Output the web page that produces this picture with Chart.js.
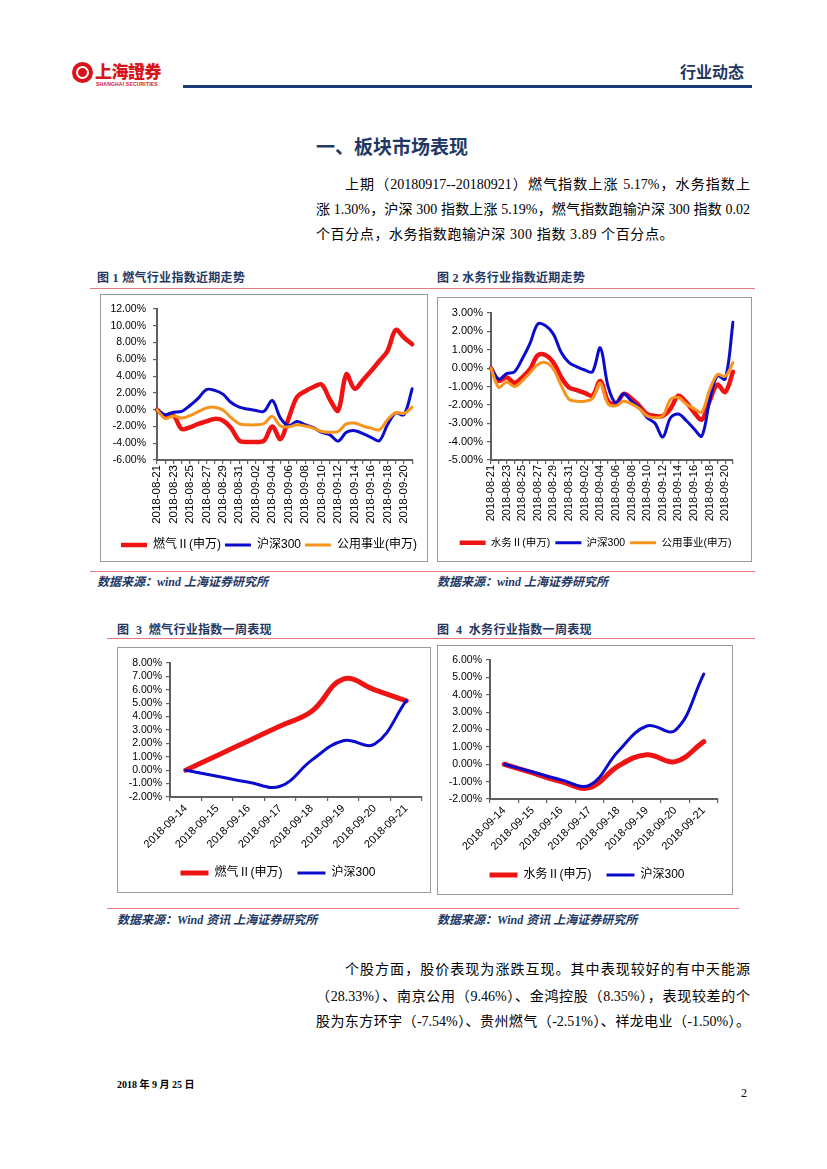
<!DOCTYPE html>
<html lang="zh-CN">
<head>
<meta charset="utf-8">
<title>行业动态 - 燃气水务</title>
<script src="https://cdn.jsdelivr.net/npm/chart.js@4.4.1/dist/chart.umd.min.js"></script>
<style>
html,body{margin:0;padding:0;background:#fff}
body{position:relative;width:827px;height:1169px;overflow:hidden;font-family:"Liberation Serif","Noto Sans CJK SC",serif;color:#000}
.a{position:absolute;white-space:nowrap}
.hr{position:absolute;height:0;border-top:1.5px solid #e77a7a}
.box{position:absolute;border:1px solid #9a9a9a;box-sizing:border-box;background:#fff}
.box canvas{position:absolute;left:0;top:0}
.j{text-align:justify;text-align-last:justify}
.cap{font-family:"Liberation Serif","Noto Sans CJK SC",serif;font-weight:700;font-size:12px;line-height:16px;color:#1f3864;letter-spacing:0.3px}
.src{font-family:"Liberation Serif","Noto Sans CJK SC",serif;font-weight:700;font-style:italic;font-size:12px;line-height:16px;color:#1f3864}
.p{font-size:14px;line-height:20px}
</style>
</head>
<body>
<!-- header -->
<div class="a" style="left:72px;top:62px;width:21px;height:21px;border-radius:50%;background:#d7141a"></div>
<div class="a" style="left:76px;top:66px;width:13px;height:13px;border-radius:50%;border:2px solid #fff;box-sizing:border-box"></div>
<div class="a" style="left:80px;top:69px;width:5px;height:7px;background:#d7141a"></div>
<div class="a" style="left:95px;top:61px;font-family:'Noto Sans CJK TC','Noto Sans CJK SC',sans-serif;font-weight:900;font-size:17px;line-height:20px;color:#d7141a;letter-spacing:-0.5px">上海證券</div>
<div class="a" style="left:96px;top:81px;font-family:'Liberation Sans',sans-serif;font-weight:700;font-size:5px;line-height:6px;color:#d7141a;letter-spacing:0.2px">SHANGHAI SECURITIES</div>
<div class="a" style="left:680px;top:61px;font-family:'Noto Sans CJK SC',sans-serif;font-weight:700;font-size:16px;line-height:20px;color:#1f3864">行业动态</div>
<div class="a" style="left:183px;top:85px;width:569px;height:2.5px;background:#1f3c78"></div>

<!-- section title & paragraph -->
<div class="a" style="left:316px;top:134px;font-family:'Noto Sans CJK SC',sans-serif;font-weight:700;font-size:19px;line-height:24px;color:#1f3864">一、板块市场表现</div>
<div class="a p j" style="left:345px;top:175px;width:405px">上期（20180917--20180921）燃气指数上涨 5.17%，水务指数上</div>
<div class="a p j" style="left:316px;top:200px;width:434px">涨 1.30%，沪深 300 指数上涨 5.19%，燃气指数跑输沪深 300 指数 0.02</div>
<div class="a p" style="left:316px;top:225px;letter-spacing:0.6px">个百分点，水务指数跑输沪深 300 指数 3.89 个百分点。</div>

<!-- figure captions row 1 -->
<div class="a cap" style="left:97px;top:270px">图 1 燃气行业指数近期走势</div>
<div class="a cap" style="left:437px;top:270px">图 2 水务行业指数近期走势</div>
<div class="hr" style="left:90px;top:288px;width:665px"></div>

<div class="box" style="left:100px;top:294px;width:328px;height:268px"><canvas id="c1" width="326" height="266"></canvas></div>
<div class="box" style="left:437px;top:297px;width:315px;height:265px"><canvas id="c2" width="313" height="263"></canvas></div>

<div class="hr" style="left:90px;top:571px;width:665px"></div>
<div class="a src" style="left:97px;top:574px">数据来源：wind 上海证券研究所</div>
<div class="a src" style="left:437px;top:574px">数据来源：wind 上海证券研究所</div>

<!-- figure captions row 2 -->
<div class="a cap" style="left:117px;top:622px">图&nbsp; 3&nbsp; 燃气行业指数一周表现</div>
<div class="a cap" style="left:437px;top:622px">图&nbsp; 4&nbsp; 水务行业指数一周表现</div>
<div class="hr" style="left:107px;top:638px;width:648px"></div>

<div class="box" style="left:117px;top:647px;width:314px;height:246px"><canvas id="c3" width="312" height="244"></canvas></div>
<div class="box" style="left:437px;top:645px;width:296px;height:250px"><canvas id="c4" width="294" height="248"></canvas></div>

<div class="hr" style="left:107px;top:908px;width:632px"></div>
<div class="a src" style="left:117px;top:912px">数据来源：Wind 资讯 上海证券研究所</div>
<div class="a src" style="left:437px;top:912px">数据来源：Wind 资讯 上海证券研究所</div>

<!-- paragraph 2 -->
<div class="a p j" style="left:345px;top:960px;width:405px">个股方面，股价表现为涨跌互现。其中表现较好的有中天能源</div>
<div class="a p j" style="left:316px;top:987px;width:434px">（28.33%）、南京公用（9.46%）、金鸿控股（8.35%），表现较差的个</div>
<div class="a p j" style="left:316px;top:1012px;width:434px">股为东方环宇（-7.54%）、贵州燃气（-2.51%）、祥龙电业（-1.50%）。</div>

<!-- footer -->
<div class="a" style="left:117px;top:1078px;font-weight:700;font-size:10px;line-height:14px">2018 年 9 月 25 日</div>
<div class="a" style="left:741px;top:1085px;font-size:12px;line-height:16px">2</div>

<script>
// ---------------- data ----------------
const recentDates = ['2018-08-21','2018-08-22','2018-08-23','2018-08-24','2018-08-25','2018-08-26','2018-08-27','2018-08-28','2018-08-29','2018-08-30','2018-08-31',
  '2018-09-01','2018-09-02','2018-09-03','2018-09-04','2018-09-05','2018-09-06','2018-09-07','2018-09-08','2018-09-09','2018-09-10','2018-09-11','2018-09-12',
  '2018-09-13','2018-09-14','2018-09-15','2018-09-16','2018-09-17','2018-09-18','2018-09-19','2018-09-20','2018-09-21'];
const gasRecent = [0.0,-0.8,-0.7,-2.3,-2.1,-1.7,-1.4,-1.1,-1.3,-2.2,-3.7,-3.85,-3.85,-3.7,-2.0,-3.5,-1.0,1.5,2.2,2.7,3.0,1.2,-0.1,4.2,2.5,3.5,4.6,5.8,7.0,9.5,8.6,7.8];
const waterRecent = [0.0,-0.7,-0.5,-0.8,-0.5,-0.05,0.7,0.7,0.3,-0.5,-1.05,-1.2,-1.35,-1.5,-0.7,-1.8,-1.95,-1.4,-1.65,-2.05,-2.5,-2.6,-2.6,-2.2,-1.5,-1.85,-2.4,-2.8,-1.8,-0.9,-1.3,-0.2];
const hs300Recent = [0.0,-0.6,-0.3,-0.2,0.5,1.35,2.4,2.3,1.85,0.85,0.3,0.07,-0.1,-0.2,1.1,-1.0,-1.9,-1.4,-1.8,-2.15,-2.7,-3.0,-3.75,-2.7,-2.5,-2.85,-3.3,-3.7,-1.8,-0.4,-0.6,2.5];
const utilityRecent = [0.0,-1.05,-0.75,-1.0,-0.7,-0.25,0.2,0.3,-0.05,-0.95,-1.7,-1.8,-1.8,-1.65,-0.8,-1.95,-2.05,-1.8,-1.95,-2.2,-2.6,-2.7,-2.6,-1.7,-1.6,-1.95,-2.2,-2.4,-1.2,-0.35,-0.45,0.3];

const weekDates = ['2018-09-14','2018-09-15','2018-09-16','2018-09-17','2018-09-18','2018-09-19','2018-09-20','2018-09-21'];
const gasWeek = [0.0,1.1,2.2,3.3,4.4,6.8,6.0,5.17];
const waterWeek = [0.0,-0.5,-1.0,-1.35,-0.1,0.55,0.15,1.30];
const hs300Week = [0.0,-0.45,-0.9,-1.2,0.75,2.2,1.95,5.19];

const seriesNames = {gas:'燃气Ⅱ(申万)', water:'水务Ⅱ(申万)', hs300:'沪深300', utility:'公用事业(申万)'};
const yRange1 = [-6, 12, 2];
const yRange2 = [-5, 3, 1];
const yRange3 = [-2, 8, 1];
const yRange4 = [-2, 6, 1];

// ---------------- styles ----------------
const RED = '#ee1414', BLUE = '#0b0bcc', ORANGE = '#f7941d', AXIS = '#5f5f5f';
const SANS = '"Liberation Sans","Noto Sans CJK SC",sans-serif';

function makeChart(id, p) {
  const canvas = document.getElementById(id);
  const W = canvas.width;
  const n = p.datasets.length;
  return new Chart(canvas, {
    type: 'line',
    data: {
      labels: p.labels,
      datasets: p.datasets.map((d, i) => ({
        label: d.label, data: d.data,
        borderColor: d.color, backgroundColor: d.color,
        borderWidth: d.width, pointRadius: 0, pointHoverRadius: 0,
        tension: p.tension, fill: false, borderCapStyle: 'round', borderJoinStyle: 'round',
        order: n - i
      }))
    },
    options: {
      responsive: false, animation: false, events: [],
      layout: { padding: { left: 0, top: p.plot.top, right: W - p.plot.right, bottom: p.bottomPad } },
      plugins: {
        tooltip: { enabled: false },
        legend: {
          position: 'bottom',
          labels: {
            usePointStyle: true, pointStyle: 'line', pointStyleWidth: p.legendBox,
            padding: p.legendPad, color: '#000',
            font: { family: SANS, size: p.legendFont },
            sort: (a, b) => a.datasetIndex - b.datasetIndex
          }
        },
        legendShift: { center: p.legendCenter }
      },
      scales: {
        x: {
          type: 'category', offset: p.offset,
          grid: { display: true, drawOnChartArea: false, drawTicks: true, tickLength: 4, color: AXIS, lineWidth: 1.2, offset: p.offset },
          border: { display: true, color: AXIS, width: 2 },
          ticks: {
            autoSkip: false, maxRotation: p.rot, minRotation: p.rot, padding: 1, color: '#000',
            font: { family: SANS, size: p.xFont },
            callback: function (v, i) { return (i % p.every === 0) ? this.getLabelForValue(v) : ''; }
          },
          afterFit: s => { s.height = s.chart.height - p.plot.bottom - (s.chart.legend ? s.chart.legend.height : 0) - p.bottomPad; }
        },
        y: {
          min: p.y[0], max: p.y[1],
          grid: { display: true, drawOnChartArea: false, drawTicks: true, tickLength: 4, color: AXIS, lineWidth: 1.2 },
          border: { display: true, color: AXIS, width: 2 },
          ticks: { stepSize: p.y[2], autoSkip: false, padding: p.yPad, color: '#000', font: { family: SANS, size: p.yFont },
                   callback: v => Number(v).toFixed(2) + '%' },
          afterFit: s => { s.width = p.plot.left; }
        }
      }
    }
  });
}

Chart.register({
  id: 'legendShift',
  afterLayout(chart, args, opts) {
    const lg = chart.legend;
    if (!lg || opts.center == null) return;
    const dx = opts.center - (lg.left + lg.right) / 2;
    lg.left += dx; lg.right += dx;
  }
});

makeChart('c1', {
  labels: recentDates,
  datasets: [
    { label: seriesNames.gas, data: gasRecent, color: RED, width: 4.5 },
    { label: seriesNames.hs300, data: hs300Recent, color: BLUE, width: 3 },
    { label: seriesNames.utility, data: utilityRecent, color: ORANGE, width: 3 }
  ],
  y: yRange1, tension: 0.35, offset: false, rot: 90, every: 2,
  plot: { left: 56, top: 14, right: 315, bottom: 165 }, bottomPad: 0,
  xFont: 11.5, yFont: 10.5, yPad: 7, legendFont: 12, legendBox: 26, legendPad: 4, legendCenter: 168
});

makeChart('c2', {
  labels: recentDates,
  datasets: [
    { label: seriesNames.water, data: waterRecent, color: RED, width: 4.5 },
    { label: seriesNames.hs300, data: hs300Recent, color: BLUE, width: 3 },
    { label: seriesNames.utility, data: utilityRecent, color: ORANGE, width: 3 }
  ],
  y: yRange2, tension: 0.35, offset: false, rot: 90, every: 2,
  plot: { left: 53, top: 15, right: 295, bottom: 162 }, bottomPad: 3,
  xFont: 11, yFont: 11, yPad: 4, legendFont: 10.5, legendBox: 26, legendPad: 5, legendCenter: 157.5
});

makeChart('c3', {
  labels: weekDates,
  datasets: [
    { label: seriesNames.gas, data: gasWeek, color: RED, width: 5 },
    { label: seriesNames.hs300, data: hs300Week, color: BLUE, width: 3 }
  ],
  y: yRange3, tension: 0.4, offset: true, rot: 45, every: 1,
  plot: { left: 52, top: 15, right: 304, bottom: 149 }, bottomPad: 3,
  xFont: 11, yFont: 10.5, yPad: 4, legendFont: 12, legendBox: 28, legendPad: 15, legendCenter: 160
});

makeChart('c4', {
  labels: weekDates,
  datasets: [
    { label: seriesNames.water, data: waterWeek, color: RED, width: 5 },
    { label: seriesNames.hs300, data: hs300Week, color: BLUE, width: 3 }
  ],
  y: yRange4, tension: 0.4, offset: true, rot: 45, every: 1,
  plot: { left: 52, top: 14, right: 280, bottom: 153 }, bottomPad: 3,
  xFont: 11, yFont: 10.5, yPad: 4, legendFont: 12, legendBox: 28, legendPad: 15, legendCenter: 149
});
</script>
</body>
</html>
